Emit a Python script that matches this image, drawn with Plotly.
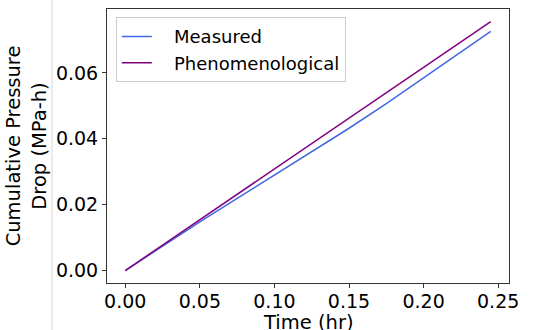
import plotly.graph_objects as go

time_meas = [0.0, 0.025, 0.05, 0.075, 0.10, 0.125, 0.15, 0.175, 0.20, 0.225, 0.245]
measured = [0.0, 0.0075, 0.0148, 0.0219, 0.0290, 0.0360, 0.0432, 0.0507, 0.0586, 0.0665, 0.0726]
time_phen = [0.0, 0.05, 0.10, 0.15, 0.20, 0.245]
phenom = [0.0, 0.0154, 0.0309, 0.0463, 0.0617, 0.0756]

x_ticks = [0.0, 0.05, 0.10, 0.15, 0.20, 0.25]
y_ticks = [0.0, 0.02, 0.04, 0.06]

font = "DejaVu Sans"
fig = go.Figure()
fig.add_trace(go.Scatter(x=time_meas, y=measured, mode="lines", name="   Measured",
                         line=dict(color="#4169E1", width=1.5)))
fig.add_trace(go.Scatter(x=time_phen, y=phenom, mode="lines", name="   Phenomenological",
                         line=dict(color="#800080", width=1.5)))

axis_common = dict(showline=True, linecolor="#333333", linewidth=1, mirror=True,
                   ticks="outside", ticklen=4, tickcolor="#333333", showgrid=False,
                   zeroline=False, automargin=False,
                   tickfont=dict(family=font, size=19, color="black"))
fig.update_xaxes(range=[-0.01225, 0.25725], tickvals=x_ticks,
                 ticktext=[f"{v:.2f}" for v in x_ticks], ticklabelstandoff=-3,
                 **axis_common)
fig.update_yaxes(range=[-0.00378, 0.0794], tickvals=y_ticks,
                 ticktext=[f"{v:.2f}" for v in y_ticks],
                 title=dict(text="Cumulative Pressure<br>Drop (MPa-h)",
                            font=dict(family=font, size=19.5, color="black"), standoff=4),
                 **axis_common)

fig.add_annotation(text="Time (hr)", xref="paper", yref="paper", x=0.5, y=-0.145,
                   xanchor="center", yanchor="middle", showarrow=False,
                   font=dict(family=font, size=19.5, color="black"))

fig.add_shape(type="line", xref="paper", yref="paper", x0=-0.1368, x1=-0.1368, y0=-0.2, y1=1.1,
              line=dict(color="#d6d6d6", width=1))

fig.update_layout(
    width=533, height=330,
    margin=dict(l=107, r=24, t=9, b=47),
    paper_bgcolor="white", plot_bgcolor="white",
    font=dict(family=font, size=18, color="black"),
    legend=dict(x=0.022, y=0.97, xanchor="left", yanchor="top",
                bgcolor="rgba(255,255,255,0.8)", bordercolor="#cccccc", borderwidth=1,
                font=dict(family=font, size=18, color="black")),
    showlegend=True,
)
fig.write_html("out.html", config={"displayModeBar": False},
               post_script="document.body.style.margin='0px';document.body.style.overflow='hidden';")
